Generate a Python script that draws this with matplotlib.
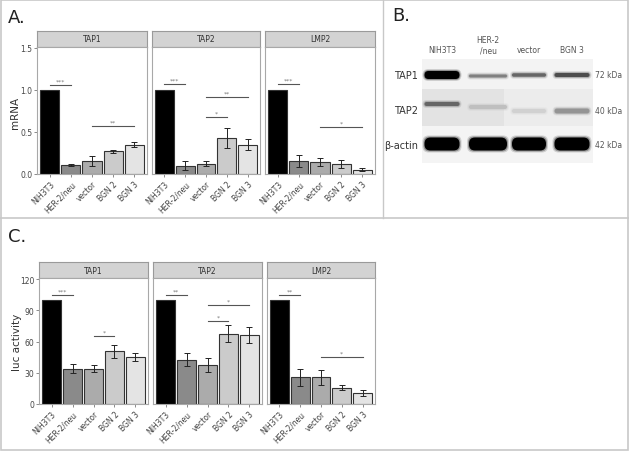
import matplotlib
matplotlib.use("Agg")
import matplotlib.pyplot as plt
from matplotlib.patches import Rectangle, FancyBboxPatch
from matplotlib.lines import Line2D

W, H = 629, 452

# ---- data -------------------------------------------------------------
groups = ["NIH3T3", "HER-2/neu", "vector", "BGN 2", "BGN 3"]
genes = ["TAP1", "TAP2", "LMP2"]
bar_colors = ["#000000", "#8a8a8a", "#ababab", "#cbcbcb", "#e4e4e4"]

# panel A: relative mRNA
mrna_tap1 = [1.0, 0.11, 0.15, 0.27, 0.35]
mrna_tap1_err = [0.0, 0.01, 0.06, 0.02, 0.03]
mrna_tap2 = [1.0, 0.10, 0.12, 0.43, 0.35]
mrna_tap2_err = [0.0, 0.05, 0.03, 0.12, 0.07]
mrna_lmp2 = [1.0, 0.15, 0.14, 0.12, 0.05]
mrna_lmp2_err = [0.0, 0.07, 0.05, 0.05, 0.02]
# (from bar, to bar, height, label)
mrna_tap1_sig = [(0, 1, 1.06, "***"), (2, 4, 0.57, "**")]
mrna_tap2_sig = [(0, 1, 1.07, "***"), (2, 4, 0.92, "**"), (2, 3, 0.68, "*")]
mrna_lmp2_sig = [(0, 1, 1.07, "***"), (2, 4, 0.56, "*")]

# panel C: luciferase activity
luc_tap1 = [100, 34, 34, 50.5, 45]
luc_tap1_err = [0, 4, 3.5, 6, 3.5]
luc_tap2 = [100, 42.5, 37.5, 67.5, 66.5]
luc_tap2_err = [0, 6, 7, 8, 7.5]
luc_lmp2 = [100, 25.5, 25.5, 15.5, 10.5]
luc_lmp2_err = [0, 8.5, 7.5, 2.5, 3]
luc_tap1_sig = [(0, 1, 105, "***"), (2, 3, 65, "*")]
luc_tap2_sig = [(0, 1, 105, "**"), (2, 4, 95, "*"), (2, 3, 80, "*")]
luc_lmp2_sig = [(0, 1, 105, "**"), (2, 4, 45.5, "*")]

# panel B: western blot band strength (0 = none, 1 = saturated)
blot_lanes = ["NIH3T3", "HER-2\n/neu", "vector", "BGN 3"]
blot_rows = ["TAP1", "TAP2", "β-actin"]
blot_kda = ["72 kDa", "40 kDa", "42 kDa"]
band_tap1 = [1.0, 0.5, 0.6, 0.7]
band_tap2 = [0.6, 0.25, 0.18, 0.42]
band_actin = [1.0, 1.0, 1.0, 1.0]

fig = plt.figure(figsize=(W / 100, H / 100), dpi=100)


def px_axes(x0, y0, x1, y1):
    return fig.add_axes([x0 / W, 1 - y1 / H, (x1 - x0) / W, (y1 - y0) / H])


def facet(x0, x1, y_strip, y_top, y_bot, title, vals, errs, sigs, ylim, yticks, first):
    st = px_axes(x0, y_strip, x1, y_top)
    st.set_facecolor("#d3d3d3")
    st.set_xticks([]); st.set_yticks([])
    for s in st.spines.values():
        s.set_color("#9a9a9a"); s.set_linewidth(0.8)
    st.text(0.5, 0.5, title, ha="center", va="center", fontsize=5.5, color="#333333",
            transform=st.transAxes)

    ax = px_axes(x0, y_top, x1, y_bot)
    x = range(len(groups))
    ax.bar(x, vals, width=0.9, color=bar_colors, edgecolor="#333333", linewidth=0.8)
    ax.errorbar(x[1:], vals[1:], yerr=errs[1:], fmt="none", ecolor="#222222",
                elinewidth=0.7, capsize=2, capthick=0.7)
    for i, j, y, lab in sigs:
        ax.plot([i, j], [y, y], color="#555555", lw=0.8)
        ax.text((i + j) / 2, y + ylim * 0.012, lab, ha="center", va="bottom",
                fontsize=4.5, color="#777777")
    ax.set_xlim(-0.6, 4.6)
    ax.set_ylim(0, ylim)
    ax.set_xticks(list(x))
    ax.set_xticklabels(groups, rotation=45, ha="right", rotation_mode="anchor",
                       fontsize=5.5, color="#444444")
    ax.set_yticks(yticks)
    if first:
        ax.set_yticklabels([f"{t:.1f}" if ylim < 10 else f"{t:g}" for t in yticks],
                           fontsize=5.5, color="#444444")
    else:
        ax.tick_params(axis="y", left=False, labelleft=False)
    ax.tick_params(length=2, width=0.6, color="#777777", pad=1.5)
    for s in ax.spines.values():
        s.set_color("#a8a8a8"); s.set_linewidth(0.8)
    return ax


# ---- panel A ----------------------------------------------------------
a_cols = [(37, 147), (152, 260), (265, 375)]
a_data = [(mrna_tap1, mrna_tap1_err, mrna_tap1_sig),
          (mrna_tap2, mrna_tap2_err, mrna_tap2_sig),
          (mrna_lmp2, mrna_lmp2_err, mrna_lmp2_sig)]
for k, ((x0, x1), (v, e, s)) in enumerate(zip(a_cols, a_data)):
    facet(x0, x1, 32, 48, 175, genes[k], v, e, s, 1.51, [0, 0.5, 1.0, 1.5], k == 0)
fig.text(15 / W, 1 - 113 / H, "mRNA", rotation=90, ha="center", va="center",
         fontsize=7.5, color="#333333")

# ---- panel C ----------------------------------------------------------
c_cols = [(39, 148), (153, 262), (267, 375)]
c_data = [(luc_tap1, luc_tap1_err, luc_tap1_sig),
          (luc_tap2, luc_tap2_err, luc_tap2_sig),
          (luc_lmp2, luc_lmp2_err, luc_lmp2_sig)]
for k, ((x0, x1), (v, e, s)) in enumerate(zip(c_cols, c_data)):
    facet(x0, x1, 263, 279, 405, genes[k], v, e, s, 121, [0, 30, 60, 90, 120], k == 0)
fig.text(17 / W, 1 - 342 / H, "luc activity", rotation=90, ha="center", va="center",
         fontsize=7.5, color="#333333")

# ---- panel B: blot -------------------------------------------------------
bx = px_axes(422, 60, 593, 164)
bx.set_xlim(422, 593)
bx.set_ylim(164, 60)
bx.axis("off")
bx.add_patch(Rectangle((422, 60), 171, 30, color="#f3f3f3", lw=0))
bx.add_patch(Rectangle((422, 90), 171, 37, color="#ececec", lw=0))
bx.add_patch(Rectangle((422, 90), 82, 37, color="#e3e3e3", lw=0))
bx.add_patch(Rectangle((422, 127), 171, 37, color="#f4f4f4", lw=0))

lane_x = [442, 488, 529, 572]
lane_w = [37, 40, 36, 37]
rows = [(band_tap1, [76, 77, 76, 76], [8, 3, 3.5, 4]),
        (band_tap2, [105, 108, 112, 112], [4, 4, 4, 5]),
        (band_actin, [145, 145, 145, 145], [13, 13, 13, 13])]


def band(xc, yc, w, h, strength):
    g = 1 - strength
    # soft halo, then the core
    for pad, a in [(2.0, 0.15), (1.0, 0.3), (0.0, 1.0)]:
        ww, hh = w + 2 * pad, h + 2 * pad
        r = min(hh / 2, 6)
        bx.add_patch(FancyBboxPatch((xc - ww / 2, yc - hh / 2), ww, hh,
                                    boxstyle=f"round,pad=0,rounding_size={r}",
                                    color=(g, g, g), alpha=a, lw=0))


for bands, ys, hs in rows:
    for xc, w, b, yc, h in zip(lane_x, lane_w, bands, ys, hs):
        band(xc, yc, w - 2, h, b)

for lab, xc in zip(blot_lanes, lane_x):
    fig.text(xc / W, 1 - 55 / H, lab, ha="center", va="bottom", fontsize=5.5,
             color="#555555", linespacing=1.1)
for lab, kda, yc in zip(blot_rows, blot_kda, [76, 111, 146]):
    fig.text(418 / W, 1 - yc / H, lab, ha="right", va="center", fontsize=7,
             color="#333333")
    fig.text(595 / W, 1 - yc / H, kda, ha="left", va="center", fontsize=5.5,
             color="#555555")

# ---- panel letters and frame ---------------------------------------------
fig.text(8 / W, 1 - 18 / H, "A.", fontsize=13, va="center", color="#222222")
fig.text(392 / W, 1 - 16 / H, "B.", fontsize=13, va="center", color="#222222")
fig.text(8 / W, 1 - 237 / H, "C.", fontsize=13, va="center", color="#222222")

fc = "#c8c8c8"
fig.add_artist(Line2D([383 / W, 383 / W], [1, 1 - 219 / H], color=fc, lw=1))
fig.add_artist(Line2D([0, 1], [1 - 219 / H, 1 - 219 / H], color=fc, lw=1.2))
fig.add_artist(Rectangle((0.001, 0.002), 0.997, 0.996, fill=False, edgecolor=fc, lw=1.2,
                         transform=fig.transFigure))

fig.savefig("out.png", dpi=100)
